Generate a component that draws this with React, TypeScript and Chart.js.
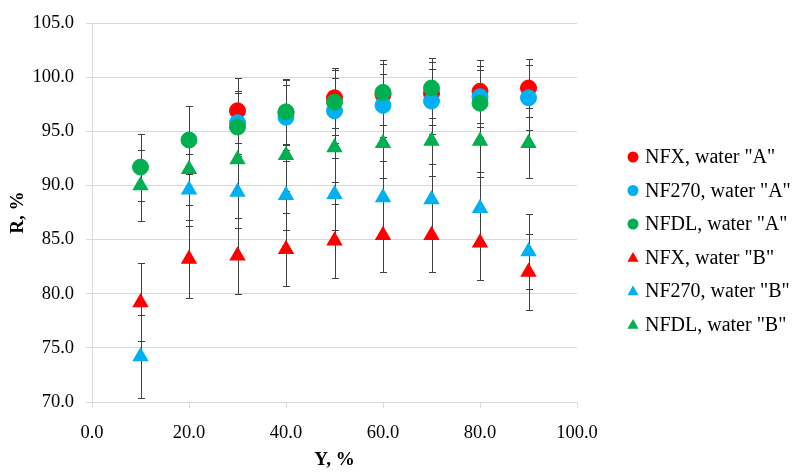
import React, { useEffect, useRef } from 'react';
import { Chart, registerables } from 'chart.js';

Chart.register(...registerables);

const xValues = [10, 20, 30, 40, 50, 60, 70, 80, 90];

const nfxA = [null, null, 96.9, 96.7, 98.1, 98.4, 98.5, 98.7, 99.0];
const nfxAErr = [null, null, 3.0, 3.0, 2.75, 2.8, 2.95, 2.9, 2.7];
const nf270A = [null, null, 95.8, 96.3, 96.9, 97.4, 97.8, 98.2, 98.1];
const nf270AErr = [null, null, 2.9, 3.0, 3.0, 2.9, 3.0, 2.8, 3.0];
const nfdlA = [91.7, 94.2, 95.4, 96.8, 97.7, 98.6, 99.0, 97.6, null];
const nfdlAErr = [3.1, 3.1, 3.1, 3.0, 3.0, 3.0, 2.8, 3.1, null];

const nfxB = [79.2, 83.2, 83.5, 84.1, 84.9, 85.4, 85.4, 84.7, 82.0];
const nfxBErr = [3.6, 3.6, 3.5, 3.4, 3.4, 3.4, 3.4, 3.4, 3.5];
const nf270B = [74.2, 89.6, 89.4, 89.1, 89.2, 88.9, 88.7, 87.9, 83.9];
const nf270BErr = [3.8, 3.3, 3.3, 3.2, 3.3, 3.35, 3.3, 3.3, 3.5];
const nfdlB = [90.0, 91.5, 92.4, 92.8, 93.5, 93.9, 94.1, 94.1, 93.9];
const nfdlBErr = [3.3, 3.3, 3.3, 3.3, 3.2, 3.25, 3.25, 3.3, 3.25];

const seriesLabels = [
  'NFX, water "A"',
  'NF270, water "A"',
  'NFDL, water "A"',
  'NFX, water "B"',
  'NF270, water "B"',
  'NFDL, water "B"',
];
const seriesValues = [nfxA, nf270A, nfdlA, nfxB, nf270B, nfdlB];
const seriesErrors = [nfxAErr, nf270AErr, nfdlAErr, nfxBErr, nf270BErr, nfdlBErr];
const seriesColors = ['#FF0000', '#00B0F0', '#00B050', '#FF0000', '#00B0F0', '#00B050'];
const seriesStyles = ['circle', 'circle', 'circle', 'triangle', 'triangle', 'triangle'];

const xTicks = [0, 20, 40, 60, 80, 100];
const yTicks = [70, 75, 80, 85, 90, 95, 100, 105];

const FONT = '"Liberation Serif", "Times New Roman", serif';

const errorBarPlugin = {
  id: 'errorBars',
  beforeDatasetsDraw(chart: any) {
    const { ctx } = chart;
    const xs = chart.scales.x;
    const ys = chart.scales.y;
    ctx.save();
    ctx.strokeStyle = '#404040';
    ctx.lineWidth = 1;
    chart.data.datasets.forEach((ds: any) => {
      ds.data.forEach((p: any, j: number) => {
        if (!p || p.y == null) return;
        const e = ds.errors[j];
        if (e == null) return;
        const px = Math.round(xs.getPixelForValue(p.x)) + 0.5;
        const top = Math.round(ys.getPixelForValue(p.y + e)) + 0.5;
        const bot = Math.round(ys.getPixelForValue(p.y - e)) + 0.5;
        ctx.beginPath();
        ctx.moveTo(px, top);
        ctx.lineTo(px, bot);
        ctx.moveTo(px - 3.5, top);
        ctx.lineTo(px + 3.5, top);
        ctx.moveTo(px - 3.5, bot);
        ctx.lineTo(px + 3.5, bot);
        ctx.stroke();
      });
    });
    ctx.restore();
  },
};

const legendPlugin = {
  id: 'sideLegend',
  afterDraw(chart: any) {
    const { ctx } = chart;
    const area = chart.chartArea;
    const markerX = area.right + 56;
    const textX = area.right + 68;
    const top = 157;
    const step = 33.5;
    ctx.save();
    chart.data.datasets.forEach((ds: any, i: number) => {
      const y = top + i * step;
      ctx.fillStyle = ds.backgroundColor;
      ctx.beginPath();
      if (ds.pointStyle === 'circle') {
        ctx.arc(markerX, y, 5.5, 0, Math.PI * 2);
      } else {
        ctx.moveTo(markerX, y - 5.5);
        ctx.lineTo(markerX + 5.6, y + 4.2);
        ctx.lineTo(markerX - 5.6, y + 4.2);
        ctx.closePath();
      }
      ctx.fill();
      ctx.fillStyle = '#000';
      ctx.font = `20px ${FONT}`;
      ctx.textAlign = 'left';
      ctx.textBaseline = 'middle';
      ctx.fillText(ds.label, textX, y + 1);
    });
    ctx.restore();
  },
};

export default function App() {
  const canvasRef = useRef<HTMLCanvasElement | null>(null);

  useEffect(() => {
    if (!canvasRef.current) return;
    document.body.style.margin = '0';
    const datasets = seriesLabels.map((label, i) => ({
      label,
      data: xValues
        .map((x, j) => ({ x, y: seriesValues[i][j] }))
        .filter((p) => p.y != null),
      errors: xValues
        .map((_, j) => seriesErrors[i][j])
        .filter((_, j) => seriesValues[i][j] != null),
      backgroundColor: seriesColors[i],
      borderColor: seriesColors[i],
      pointStyle: seriesStyles[i],
      pointRadius: seriesStyles[i] === 'circle' ? 8 : 9.5,
      pointBorderWidth: seriesStyles[i] === 'circle' ? 1 : 0,
      pointHoverRadius: seriesStyles[i] === 'circle' ? 8 : 9.5,
      showLine: false,
      order: seriesLabels.length - i,
    }));

    const chart = new Chart(canvasRef.current, {
      type: 'scatter',
      data: { datasets: datasets as any },
      plugins: [errorBarPlugin, legendPlugin],
      options: {
        animation: false,
        responsive: false,
        maintainAspectRatio: false,
        layout: { padding: { left: 0, top: 15, right: 217, bottom: 0 } },
        plugins: {
          legend: { display: false },
          tooltip: { enabled: false },
        },
        scales: {
          x: {
            type: 'linear',
            min: xTicks[0],
            max: xTicks[xTicks.length - 1],
            afterBuildTicks: (s: any) => {
              s.ticks = xTicks.map((v) => ({ value: v }));
            },
            afterFit: (s: any) => {
              s.height = 72;
            },
            ticks: {
              color: '#000',
              font: { family: FONT, size: 18.5 },
              padding: 14,
              callback: (v: any) => Number(v).toFixed(1),
            },
            grid: { drawOnChartArea: false, tickLength: 6, color: '#d9d9d9' },
            border: { color: '#d9d9d9' },
            title: {
              display: true,
              text: 'Y, %',
              color: '#000',
              font: { family: FONT, size: 19, weight: 'bold' },
              padding: { top: 0, bottom: 3 },
            },
          },
          y: {
            type: 'linear',
            min: yTicks[0],
            max: yTicks[yTicks.length - 1],
            afterBuildTicks: (s: any) => {
              s.ticks = yTicks.map((v) => ({ value: v }));
            },
            afterFit: (s: any) => {
              s.width = 92;
            },
            ticks: {
              color: '#000',
              font: { family: FONT, size: 18.5 },
              padding: 12,
              callback: (v: any) => Number(v).toFixed(1),
            },
            grid: { tickLength: 6, color: '#d9d9d9' },
            border: { color: '#d9d9d9' },
            title: {
              display: true,
              text: 'R, %',
              color: '#000',
              font: { family: FONT, size: 19, weight: 'bold' },
              padding: { top: 7, bottom: 0 },
            },
          },
        },
      } as any,
    });
    return () => chart.destroy();
  }, []);

  return (
    <div style={{ position: 'absolute', left: 0, top: 0, width: 794, height: 474, background: '#fff' }}>
      <canvas ref={canvasRef} width={794} height={474} style={{ width: 794, height: 474 }} />
    </div>
  );
}
